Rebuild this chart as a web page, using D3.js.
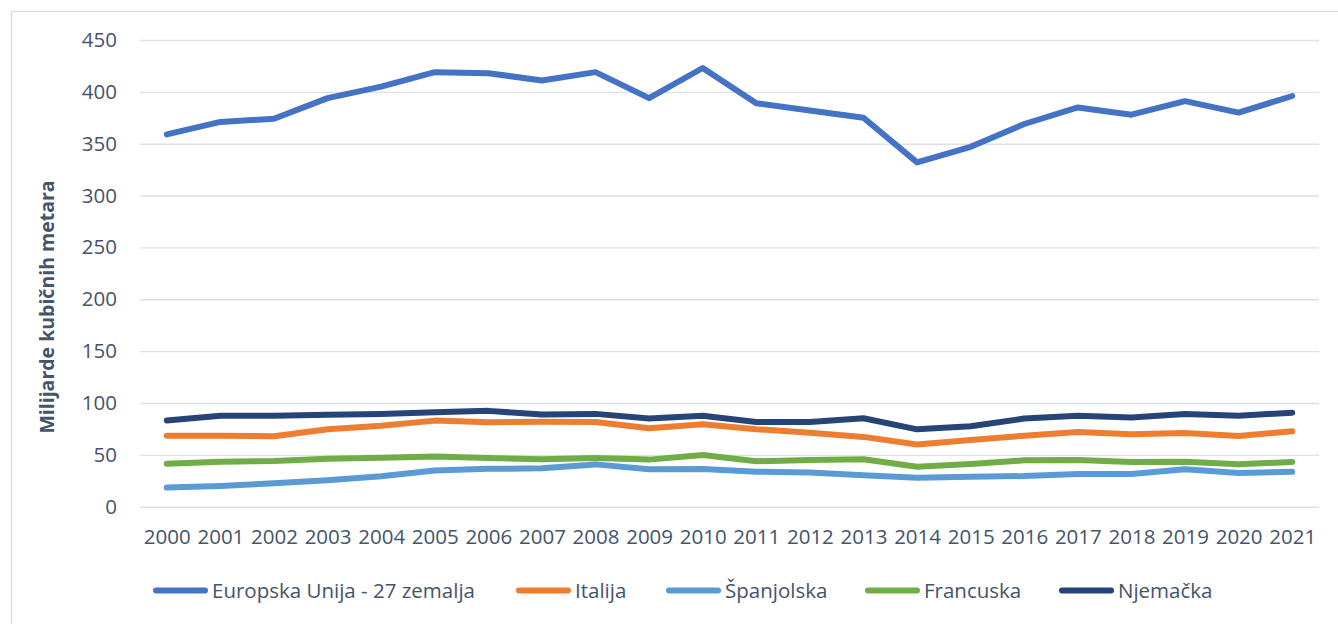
<!DOCTYPE html>
<html>
<head>
<meta charset="utf-8">
<script src="https://cdn.jsdelivr.net/npm/d3@7"></script>
<style>
  body { margin: 0; background: #fff; }
  text { font-family: "Open Sans", "Noto Sans", sans-serif; fill: #44546a; }
</style>
</head>
<body>
<svg id="chart" width="1338" height="624"></svg>
<script>
const years = ["2000", "2001", "2002", "2003", "2004", "2005", "2006", "2007", "2008", "2009", "2010",
               "2011", "2012", "2013", "2014", "2015", "2016", "2017", "2018", "2019", "2020", "2021"];
const yTicks = [0, 50, 100, 150, 200, 250, 300, 350, 400, 450];

const seriesNames = ["Europska Unija - 27 zemalja", "Italija", "Španjolska", "Francuska", "Njemačka"];
const seriesColors = ["#4472c4", "#ed7d31", "#5b9bd5", "#70ad47", "#264478"];

const euValues      = [359, 371, 374, 394, 405, 419, 418, 411, 419, 394, 423, 389, 382, 375, 332, 347, 369, 385, 378, 391, 380, 396];
const italyValues   = [68.5, 68.5, 68, 74.7, 78, 83, 81.5, 82, 81.7, 75.6, 79.5, 74.7, 71.4, 67.3, 60, 64.4, 68.5, 72, 69.8, 71.1, 68.2, 72.7];
const spainValues   = [18.4, 20, 22.6, 25.5, 29.3, 35, 36.5, 37, 40.8, 36.2, 36.4, 33.8, 33, 30.4, 27.8, 28.8, 29.6, 31.6, 31.6, 36, 32.6, 33.6];
const franceValues  = [41.5, 43.4, 44, 46.3, 47.3, 48.4, 47, 45.7, 47, 45.4, 49.9, 43.8, 45, 45.7, 38.6, 41.2, 44.7, 45, 43.1, 43.4, 40.9, 43.1];
const germanyValues = [83.2, 87.6, 87.6, 88.6, 89.3, 91, 92.4, 88.8, 89.5, 85, 87.6, 81.7, 81.7, 85.3, 74.6, 77.6, 85, 87.6, 86, 89.4, 87.6, 90.7];

const seriesValues = [euValues, italyValues, spainValues, franceValues, germanyValues];

const plot = {left: 140, right: 1319, top: 40, bottom: 506.7};
const legendY = 590.5,
      legendStarts = [153, 516, 666, 865, 1059],
      legendLineLen = 55;

const svg = d3.select("#chart");

// Outer chart frame
svg.append("rect")
   .attr("x", 11.5)
   .attr("y", 11.5)
   .attr("width", 1340)
   .attr("height", 640)
   .style("fill", "none")
   .style("stroke", "#d9dde4")
   .style("stroke-width", 1.3);

let x = d3.scalePoint()
          .domain(years)
          .range([plot.left, plot.right])
          .padding(0.5);

let y = d3.scaleLinear()
          .domain([0, 450])
          .range([plot.bottom, plot.top]);

// y-Axis with gridlines
let yAxis = svg.append("g")
   .attr("transform", "translate(" + plot.left + ",0)")
   .call(d3.axisLeft(y)
           .tickValues(yTicks)
           .tickSize(-(plot.right - plot.left))
           .tickPadding(23));
yAxis.select(".domain").remove();
yAxis.selectAll(".tick line")
     .style("stroke", "#dde1e7")
     .style("stroke-width", 1.4);
yAxis.selectAll(".tick text")
     .style("font-size", "20.5px")
     .style("fill", "#44546a");

// x-Axis (labels only)
let xAxis = svg.append("g")
   .attr("transform", "translate(0," + plot.bottom + ")")
   .call(d3.axisBottom(x).tickSize(0).tickPadding(23));
xAxis.select(".domain").remove();
xAxis.selectAll(".tick text")
     .style("font-size", "20.5px")
     .style("fill", "#44546a");

// y-Axis title
svg.append("text")
   .attr("transform", "translate(54, 307) rotate(-90)")
   .style("text-anchor", "middle")
   .style("font-weight", "bold")
   .style("font-size", "19.5px")
   .text("Milijarde kubičnih metara");

// Series lines
let line = d3.line()
             .x((d, i) => x(years[i]))
             .y((d) => y(d));

svg.selectAll(".series")
   .data(seriesValues)
   .enter().append("path")
   .attr("class", "series")
   .attr("d", (d) => line(d))
   .style("fill", "none")
   .style("stroke", (d, i) => seriesColors[i])
   .style("stroke-width", 6)
   .style("stroke-linejoin", "round")
   .style("stroke-linecap", "round");

// Legend
let legend = svg.selectAll(".legend-item")
   .data(seriesNames)
   .enter().append("g")
   .attr("class", "legend-item")
   .attr("transform", (d, i) => "translate(" + legendStarts[i] + "," + legendY + ")");

legend.append("line")
      .attr("x1", 3)
      .attr("x2", legendLineLen - 3)
      .style("stroke", (d, i) => seriesColors[i])
      .style("stroke-width", 6)
      .style("stroke-linecap", "round");

legend.append("text")
      .attr("x", legendLineLen + 4)
      .attr("dy", "0.35em")
      .style("font-size", "20.5px")
      .text((d) => d);
</script>
</body>
</html>
